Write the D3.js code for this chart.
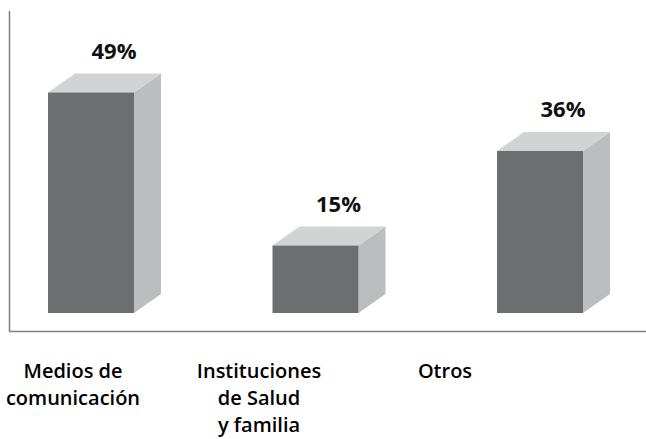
<!DOCTYPE html>
<html>
<head>
<meta charset="utf-8">
<script src="https://cdn.jsdelivr.net/npm/d3@7"></script>
<style>
  body { margin: 0; background: #fff; }
  svg { display: block; font-family: 'Open Sans', 'DejaVu Sans', sans-serif; }
</style>
</head>
<body>
<div id="chart"></div>
<script>
// data
const categories = ['Medios de comunicación', 'Instituciones de Salud y familia', 'Otros']
const values = [49, 15, 36]
const valueLabels = ['49%', '15%', '36%']
const categoryLines = [['Medios de', 'comunicación'], ['Instituciones', 'de Salud', 'y familia'], ['Otros']]

const width = 646, height = 439
const floorY = 313
const depth = {x: 27, y: 19}
const colors = {front: '#6d6e70', top: '#d2d3d5', side: '#bcbdbf', axis: '#808080'}

const svg = d3.select('#chart').append('svg')
  .attr('width', width)
  .attr('height', height)

const x = d3.scaleBand().domain(categories).range([48, 583]).paddingInner(0.617).paddingOuter(0)
const y = d3.scaleLinear().domain([0, 50]).range([floorY, 88])
// category labels sit on their own evenly spaced positions
const xLabel = d3.scalePoint().domain(categories).range([73, 445])

const data = categories.map(function(c, i){ return {cat: c, value: values[i], label: valueLabels[i], lines: categoryLines[i]} })

// axis frame
svg.append('line')
  .attr('x1', 9.5).attr('x2', 9.5).attr('y1', 11).attr('y2', 331.5)
  .attr('stroke', colors.axis).attr('stroke-width', 1.5)
svg.append('line')
  .attr('x1', 9).attr('x2', width).attr('y1', 331.5).attr('y2', 331.5)
  .attr('stroke', colors.axis).attr('stroke-width', 1.5)

const bars = svg.selectAll('g.bar')
  .data(data)
  .enter().append('g')
  .attr('class', 'bar')

// side face
bars.append('path')
  .attr('fill', colors.side)
  .attr('d', function(d){
    let x1 = x(d.cat) + x.bandwidth(), yt = y(d.value)
    return 'M' + x1 + ',' + yt + 'L' + (x1 + depth.x) + ',' + (yt - depth.y) +
      'L' + (x1 + depth.x) + ',' + (floorY - depth.y) + 'L' + x1 + ',' + floorY + 'Z'
  })

// top face
bars.append('path')
  .attr('fill', colors.top)
  .attr('d', function(d){
    let x0 = x(d.cat), x1 = x0 + x.bandwidth(), yt = y(d.value)
    return 'M' + x0 + ',' + yt + 'L' + (x0 + depth.x) + ',' + (yt - depth.y) +
      'L' + (x1 + depth.x) + ',' + (yt - depth.y) + 'L' + x1 + ',' + yt + 'Z'
  })

// front face
bars.append('rect')
  .attr('fill', colors.front)
  .attr('x', function(d){ return x(d.cat) })
  .attr('width', x.bandwidth())
  .attr('y', function(d){ return y(d.value) })
  .attr('height', function(d){ return floorY - y(d.value) })

// value labels
bars.append('text')
  .attr('x', function(d){ return x(d.cat) + x.bandwidth() / 2 + 23 })
  .attr('y', function(d){ return y(d.value) - depth.y - 15 })
  .attr('text-anchor', 'middle')
  .style('font-size', '22px')
  .style('font-weight', 700)
  .style('fill', '#111')
  .text(function(d){ return d.label })

// category labels
const catText = svg.selectAll('text.cat')
  .data(data)
  .enter().append('text')
  .attr('class', 'cat')
  .attr('text-anchor', 'middle')
  .style('font-size', '20px')
  .style('font-weight', 600)
  .style('fill', '#000')

catText.selectAll('tspan')
  .data(function(d){ return d.lines.map(function(l){ return {cat: d.cat, text: l} }) })
  .enter().append('tspan')
  .attr('x', function(d){ return xLabel(d.cat) })
  .attr('y', function(d, i){ return 378 + i * 27 })
  .text(function(d){ return d.text })
</script>
</body>
</html>
